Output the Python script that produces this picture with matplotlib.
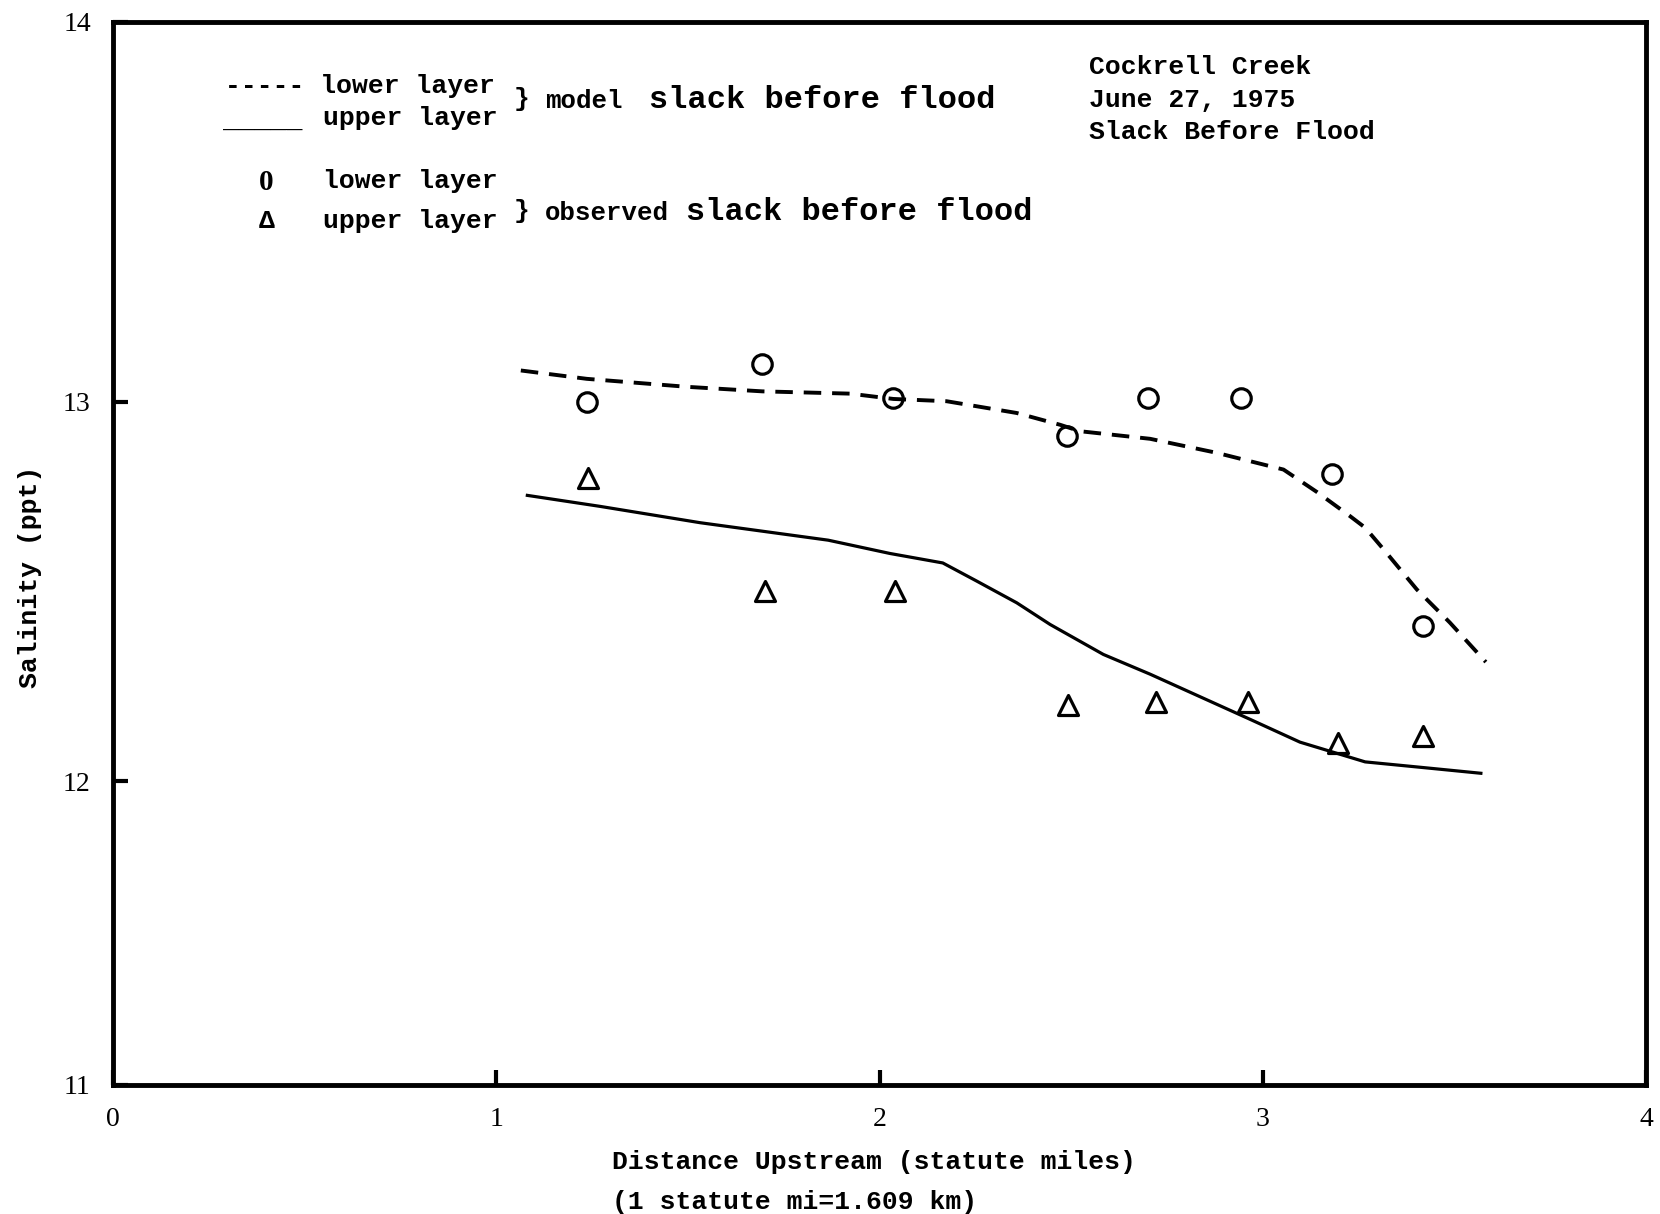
#!/usr/bin/env python3

import matplotlib
matplotlib.use('Agg')
import matplotlib.pyplot as plt
from matplotlib.markers import MarkerStyle

# model curves
model_lower_x = [1.064, 1.236, 1.497, 1.694, 1.923, 2.036, 2.175, 2.358, 2.471, 2.523,
                 2.706, 2.880, 3.054, 3.141, 3.228, 3.267, 3.315, 3.402, 3.488, 3.582]
model_lower_y = [13.082, 13.060, 13.039, 13.027, 13.021, 13.007, 13.001, 12.970, 12.939, 12.922,
                 12.902, 12.865, 12.821, 12.762, 12.698, 12.668, 12.611, 12.505, 12.418, 12.314]

model_upper_x = [1.081, 1.271, 1.532, 1.866, 2.027, 2.165, 2.254, 2.358, 2.445, 2.584,
                 2.706, 2.967, 3.097, 3.267, 3.419, 3.569]
model_upper_y = [12.753, 12.724, 12.681, 12.635, 12.600, 12.575, 12.527, 12.470, 12.413, 12.334,
                 12.282, 12.163, 12.103, 12.051, 12.036, 12.021]

# observed stations
obs_lower_x = [1.236, 1.694, 2.036, 2.490, 2.701, 2.943, 3.180, 3.419]
obs_lower_y = [13.00, 13.10, 13.01, 12.91, 13.01, 13.01, 12.81, 12.41]

obs_upper_x = [1.240, 1.701, 2.040, 2.493, 2.722, 2.962, 3.197, 3.417]
obs_upper_y = [12.80, 12.50, 12.50, 12.20, 12.21, 12.21, 12.10, 12.12]

x_ticks = [0, 1, 2, 3, 4]
# the original axis is cut off below 12 but still labelled 11 at the corner
y_bottom = 11.2
y_ticks = [y_bottom, 12, 13, 14]
y_tick_labels = ['11', '12', '13', '14']

plt.rcParams['font.family'] = ['Liberation Mono', 'DejaVu Sans Mono']
plt.rcParams['font.weight'] = 'bold'
serif = ['Liberation Serif', 'DejaVu Serif']

fig = plt.figure(figsize=(16.6, 12.14), dpi=100)
ax = fig.add_axes([0.0681, 0.1063, 0.9235, 0.8756])

ax.plot(model_lower_x, model_lower_y, color='black', lw=2.8,
        linestyle=(0, (4.5, 2.8)))
ax.plot(model_upper_x, model_upper_y, color='black', lw=2.3)

ax.plot(obs_lower_x, obs_lower_y, linestyle='none', marker='o', ms=14,
        mfc='none', mec='black', mew=2.3)
tri = MarkerStyle('^', joinstyle='round')
ax.plot(obs_upper_x, obs_upper_y, linestyle='none', marker=tri, ms=14,
        mfc='none', mec='black', mew=2.3)

ax.set_xlim(0, 4)
ax.set_ylim(y_bottom, 14)
ax.set_xticks(x_ticks)
ax.set_xticklabels([str(t) for t in x_ticks], family=serif, fontsize=20,
                   fontweight='normal')
ax.set_yticks(y_ticks)
ax.set_yticklabels(y_tick_labels, family=serif, fontsize=20, fontweight='normal')
ax.tick_params(direction='in', length=11, width=3, pad=16)

for side in ax.spines:
    ax.spines[side].set_linewidth(3.5)

ax.set_ylabel('Salinity (ppt)', fontsize=19, fontweight='bold')
ax.yaxis.set_label_coords(-0.0463, 0.478)
ax.set_xlabel('Distance Upstream (statute miles)\n(1 statute mi=1.609 km)',
              fontsize=19, fontweight='bold', ha='left', multialignment='left',
              linespacing=1.85)
ax.xaxis.set_label_coords(0.3255, -0.061)

# hand-typed key, as in the original
key = dict(transform=ax.transAxes, va='baseline', fontsize=19)
ax.text(0.0731, 0.9332, '----- lower layer', **key)
ax.text(0.0718, 0.9003, '_____', **key)
ax.text(0.137, 0.9031, 'upper layer', **key)
ax.text(0.2616, 0.9214, '}', **key)
ax.text(0.2818, 0.9191, 'model', transform=ax.transAxes, va='baseline', fontsize=18.5)
ax.text(0.3496, 0.9191, 'slack before flood', transform=ax.transAxes, va='baseline', fontsize=23)

ax.text(0.1001, 0.8420, '0', ha='center', transform=ax.transAxes, va='baseline',
        fontsize=21, family=serif)
ax.text(0.137, 0.8438, 'lower layer', **key)
ax.text(0.1001, 0.8062, '\u0394', ha='center', **key)
ax.text(0.137, 0.8062, 'upper layer', **key)
ax.text(0.2616, 0.8156, '}', **key)
ax.text(0.2818, 0.8137, 'observed', transform=ax.transAxes, va='baseline', fontsize=18.5)
ax.text(0.3738, 0.8137, 'slack before flood', transform=ax.transAxes, va='baseline', fontsize=23)

ax.text(0.6363, 0.9511, 'Cockrell Creek', **key)
ax.text(0.6363, 0.9201, 'June 27, 1975', **key)
ax.text(0.6363, 0.8895, 'Slack Before Flood', **key)

fig.savefig('out.png', dpi=100)
